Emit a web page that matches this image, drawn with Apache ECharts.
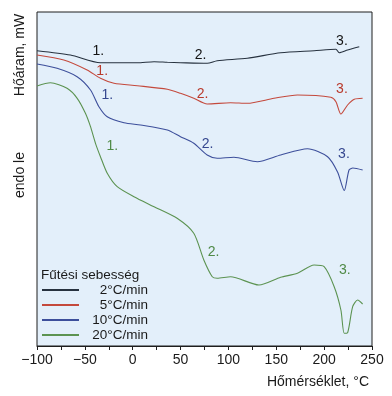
<!DOCTYPE html>
<html><head><meta charset="utf-8">
<script src="https://cdn.jsdelivr.net/npm/echarts@6/dist/echarts.min.js"></script>
<style>html,body{margin:0;padding:0;background:#fff}#c{width:392px;height:396px}</style>
</head><body><div id="c"></div>
<script>
// Temperature (°C) and heat flow (arbitrary units, higher = up)
var seriesNames = ['2°C/min', '5°C/min', '10°C/min', '20°C/min'];
var tBlack = [-100,-65.1,-33.7,-16.2,4.8,22.3,36.2,49.9,77.8,88.3,119.7,154.6,189.5,212.3,215.7,224.5,236.7];
var vBlack = [295.3,291,283.3,283.3,283.3,284.3,283.7,283.3,282.7,285.3,287.7,293.3,295.3,296.7,293.3,296,299.3];
var tRed = [-100,-72,-47.6,-33.7,-19.6,4.8,36.2,49.9,63.8,77.8,102.2,119.7,147.6,172.1,207,212.3,217.5,224.5,231.5,240.2];
var vRed = [291,286,276,267.7,262.7,260.3,256.7,252.7,247.7,242,243.3,242.7,247.7,251,248.7,244.3,232,241,246.7,247.7];
var tBlue = [-100,-79,-58.1,-44.1,-35.3,-26.6,-9.1,8.2,36.2,49.9,63.8,77.8,88.3,105.7,130.2,154.6,182.6,203.6,214,221,226,230,240.2];
var vBlue = [282,277.7,269.3,256,239.3,229.3,223.3,221,216,209.3,202.7,191,187.7,188.7,184.3,191,197.3,189.3,174,155.5,176,178,176];
var tGreen = [-100,-86,-68.6,-58,-49.4,-44.1,-38.9,-33.7,-26.6,-16.2,1.3,22.3,46.4,63.8,74.3,83.1,88.3,102.2,131.9,154.6,172.1,189.5,200,210.5,217.5,221,224.5,229.8,235,240.2];
var vGreen = [260,263.3,257.7,247.7,232.7,219.3,202.7,189.3,172.7,159.3,149.3,139.3,127.7,112.7,86,69.3,67.7,69.3,61,68.7,72.7,81,79.3,59.3,36,12.7,13.3,39.3,46,42];
// Annotation labels "1." "2." "3." per series: [T, value]
var annBlack = [[-36,295],[70.8,291],[218.6,305.3]];
var annRed = [[-31.9,275],[72.9,252],[218.6,257]];
var annBlue = [[-26.6,251],[78.1,202],[220.7,192]];
var annGreen = [[-21.4,200],[84.4,94.3],[221.7,76]];
var annText = ['1.','2.','3.'];

var lineColors = ['#27323f','#c4493c','#3d4f9b','#5c9351'];
var textColors = ['#141414','#b93a2c','#35478f','#4f8a46'];
function zip(t,v){return t.map(function(x,i){return [x,v[i]];});}
function ann(a,ci){
  return {symbol:'circle',symbolSize:0,silent:true,
    label:{show:true,position:'inside',color:textColors[ci],fontSize:14,fontFamily:'Liberation Sans',formatter:function(p){return p.name;}},
    data:a.map(function(c,i){return {name:annText[i],coord:c};})};
}
var ts=[tBlack,tRed,tBlue,tGreen], vs=[vBlack,vRed,vBlue,vGreen], as=[annBlack,annRed,annBlue,annGreen];
var series = seriesNames.map(function(n,i){
  return {name:n,type:'line',data:zip(ts[i],vs[i]),symbol:'none',smooth:0.25,
    lineStyle:{color:lineColors[i],width:1.1},itemStyle:{color:lineColors[i]},
    markPoint:ann(as[i],i),animation:false};
});
var chart = echarts.init(document.getElementById('c'));
chart.setOption({
  animation:false,
  grid:{left:37,top:12,right:20,bottom:50,show:true,backgroundColor:'#e3effa',borderColor:'#1e1e1e',borderWidth:1},
  xAxis:{type:'value',min:-100,max:250,interval:50,
    axisLine:{show:true,onZero:false,lineStyle:{color:'#1e1e1e',width:1}},
    axisTick:{show:true,length:4,lineStyle:{color:'#1e1e1e'}},
    minorTick:{show:true,splitNumber:2,length:4,lineStyle:{color:'#1e1e1e'}},
    splitLine:{show:false},
    axisLabel:{color:'#1a1a1a',fontSize:14,fontFamily:'Liberation Sans',margin:7,
      formatter:function(v){return String(v).replace('-','\u2212');}}},
  yAxis:{type:'value',min:0,max:334,axisLine:{show:false},axisTick:{show:false},axisLabel:{show:false},splitLine:{show:false}},
  title:{text:'Fűtési sebesség',left:41,top:268,padding:0,textStyle:{fontSize:13.5,fontWeight:'normal',color:'#1a1a1a',fontFamily:'Liberation Sans'}},
  legend:{orient:'vertical',left:41,top:283,padding:0,itemGap:1,itemWidth:37,itemHeight:2,
    formatter:function(n){return '{a|'+n+'}';},
    textStyle:{fontSize:13.5,color:'#1a1a1a',fontFamily:'Liberation Sans',lineHeight:13.5,
      rich:{a:{width:64,align:'right',fontSize:13.5,color:'#1a1a1a',fontFamily:'Liberation Sans',lineHeight:13.5}}},
    data:seriesNames},
  graphic:[
    {type:'text',x:20,y:55,rotation:Math.PI/2,style:{text:'Hőáram, mW',fontSize:14,fontFamily:'Liberation Sans',fill:'#1a1a1a',align:'center',verticalAlign:'middle'}},
    {type:'text',x:20,y:175,rotation:Math.PI/2,style:{text:'endo le',fontSize:14,fontFamily:'Liberation Sans',fill:'#1a1a1a',align:'center',verticalAlign:'middle'}},
    {type:'text',x:369,y:382,style:{text:'Hőmérséklet, °C',fontSize:14,fontFamily:'Liberation Sans',fill:'#1a1a1a',align:'right',verticalAlign:'middle'}}
  ],
  series:series
});
</script></body></html>
